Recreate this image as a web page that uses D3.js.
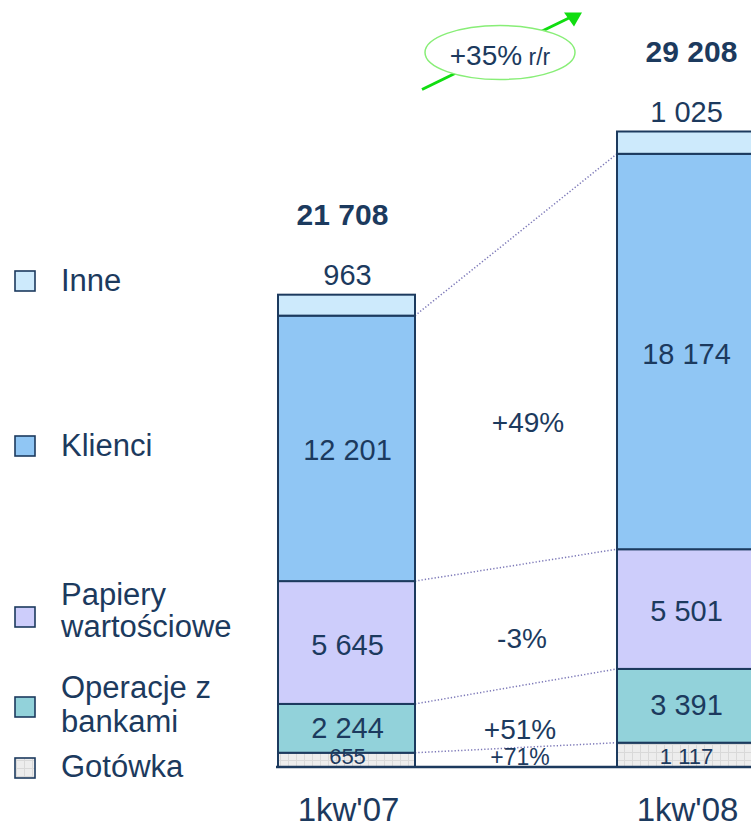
<!DOCTYPE html>
<html>
<head>
<meta charset="utf-8">
<script src="https://cdn.jsdelivr.net/npm/d3@7"></script>
<style>
  html, body { margin: 0; padding: 0; background: #ffffff; }
  svg { display: block; font-family: "Liberation Sans", Arial, sans-serif; }
</style>
</head>
<body>
<svg id="chart" width="751" height="829"></svg>
<script>
// ---- data ----
const categories = ["1kw'07", "1kw'08"];
const seriesNames = ["Gotówka", "Operacje z bankami", "Papiery wartościowe", "Klienci", "Inne"];
const gotowka   = [655, 1117];
const operacje  = [2244, 3391];
const papiery   = [5645, 5501];
const klienci   = [12201, 18174];
const inne      = [963, 1025];
const totals    = [21708, 29208];
const growthLabels = ["+71%", "+51%", "-3%", "+49%"];
const totalGrowthLabel = "+35%";
const legendLines = [["Gotówka"], ["Operacje z", "bankami"], ["Papiery", "wartościowe"], ["Klienci"], ["Inne"]];

// ---- style ----
const colors = ["#ececec", "#92d2da", "#cdcdfb", "#90c6f4", "#cdeafc"];
const navy = "#1c3a5e";
const W = 751, H = 829;

const svg = d3.select("#chart");
const defs = svg.append("defs");
const pat = defs.append("pattern").attr("id", "grid").attr("patternUnits", "userSpaceOnUse")
  .attr("width", 8).attr("height", 8);
pat.append("rect").attr("width", 8).attr("height", 8).attr("fill", "#ededed");
pat.append("path").attr("d", "M0 0.5H8M0.5 0V8").attr("stroke", "#d9d9d9").attr("stroke-width", 1);

const values = [gotowka, operacje, papiery, klienci, inne];
const table = categories.map((c, i) => {
  const o = { cat: c };
  seriesNames.forEach((s, k) => o[s] = values[k][i]);
  return o;
});
const stacked = d3.stack().keys(seriesNames)(table);

const baseY = 767;
const y = d3.scaleLinear().domain([0, 29208]).range([baseY, 131.5]);
const x = d3.scalePoint().domain(categories).range([346.5, 685.5]);
const barW = 137;

const fillFor = k => k === 0 ? "url(#grid)" : colors[k];

// connectors (dotted lines between segment boundaries)
const conn = svg.append("g");
[0, 1, 2, 3].forEach(k => {
  const s = stacked[k];
  conn.append("line")
    .attr("x1", x(categories[0]) + barW / 2).attr("y1", y(s[0][1]))
    .attr("x2", x(categories[1]) - barW / 2).attr("y2", y(s[1][1]))
    .attr("stroke", "#7d79b8").attr("stroke-width", 1.5)
    .attr("stroke-dasharray", "1.3,2");
});

// bars
const gBars = svg.append("g");
stacked.forEach((s, k) => {
  gBars.selectAll(null).data(s).enter().append("rect")
    .attr("x", d => x(d.data.cat) - barW / 2)
    .attr("y", d => y(d[1]))
    .attr("width", barW)
    .attr("height", d => y(d[0]) - y(d[1]))
    .attr("fill", fillFor(k))
    .attr("stroke", navy).attr("stroke-width", 2);
});

// baseline axis
svg.append("line").attr("x1", 276).attr("x2", W).attr("y1", baseY).attr("y2", baseY)
  .attr("stroke", navy).attr("stroke-width", 2.5);

// segment labels
const fmt = v => d3.format(",")(v).replace(/,/g, " ");
stacked.forEach((s, k) => {
  s.forEach(d => {
    const cx = x(d.data.cat);
    let yy, fs = 29;
    if (k === 4) { yy = y(d[1]) - 10; }
    else if (k === 0) { yy = y(d[0]) - 3; fs = 22; }
    else if (k === 1) { yy = (y(d[0]) + y(d[1])) / 2 + 9.5; }
    else { yy = (y(d[0]) + y(d[1])) / 2 + 12; }
    svg.append("text").attr("x", cx + 1).attr("y", yy)
      .attr("text-anchor", "middle").attr("font-size", fs).attr("fill", navy)
      .text(fmt(d[1] - d[0]));
  });
});

// totals
totals.forEach((t, i) => {
  svg.append("text").attr("x", x(categories[i]) + (i === 0 ? -4 : 6))
    .attr("y", y(t) - 70)
    .attr("text-anchor", "middle").attr("font-size", 30).attr("font-weight", "bold")
    .attr("fill", navy).text(fmt(t));
});

// growth labels
const midX = (x(categories[0]) + x(categories[1])) / 2;
[0, 1, 2, 3].forEach(k => {
  const s = stacked[k];
  let yy;
  if (k === 0) yy = baseY - 2;
  else {
    const m0 = (y(s[0][0]) + y(s[0][1])) / 2, m1 = (y(s[1][0]) + y(s[1][1])) / 2;
    yy = (m0 + m1) / 2 + (k === 3 ? 32 : 22);
  }
  svg.append("text").attr("x", midX + 4 + (k === 3 ? 8 : k === 2 ? 2 : 0)).attr("y", yy)
    .attr("text-anchor", "middle").attr("font-size", k === 0 ? 23 : 28).attr("fill", navy)
    .text(growthLabels[k]);
});

// category labels
categories.forEach((c, i) => {
  svg.append("text").attr("x", x(c) + 2).attr("y", 821)
    .attr("text-anchor", "middle").attr("font-size", 33).attr("fill", navy).text(c);
});

// overall growth arrow + ellipse
const ex = midX - 16, ey = 52.5;
svg.append("line").attr("x1", ex - 78).attr("y1", ey + 37).attr("x2", ex + 70).attr("y2", ey - 35)
  .attr("stroke", "#11dd11").attr("stroke-width", 3);
svg.append("path")
  .attr("d", `M${ex + 64},${ey - 40} L${ex + 82},${ey - 40} L${ex + 74},${ey - 26} Z`)
  .attr("fill", "#11dd11");
svg.append("ellipse").attr("cx", ex).attr("cy", ey).attr("rx", 75).attr("ry", 27)
  .attr("fill", "#ffffff").attr("stroke", "#88ee77").attr("stroke-width", 1.5);
const gt = svg.append("text").attr("x", ex).attr("y", 65).attr("text-anchor", "middle").attr("fill", navy);
gt.append("tspan").attr("font-size", 28).text(totalGrowthLabel);
gt.append("tspan").attr("font-size", 23).text(" r/r");

// legend
const legendSquareY = [758, 697, 607, 436, 271];
const legendBaselines = [[777], [698, 732], [605, 637], [456], [291]];
const lg = svg.append("g");
seriesNames.forEach((s, k) => {
  lg.append("rect").attr("x", 15).attr("y", legendSquareY[k]).attr("width", 20).attr("height", 20)
    .attr("fill", fillFor(k)).attr("stroke", navy).attr("stroke-width", 1.6);
  legendLines[k].forEach((line, j) => {
    lg.append("text").attr("x", 61).attr("y", legendBaselines[k][j])
      .attr("font-size", 31).attr("fill", navy).text(line);
  });
});
</script>
</body>
</html>
